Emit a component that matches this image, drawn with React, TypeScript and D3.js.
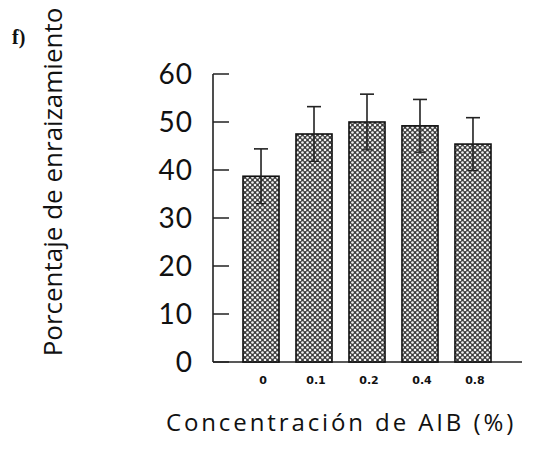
import React from "react";
import * as d3 from "d3";

const categories = ["0", "0.1", "0.2", "0.4", "0.8"];
const values = [38.7, 47.5, 50.0, 49.2, 45.4];
const errors = [5.7, 5.7, 5.8, 5.5, 5.5];
const yTicks = [0, 10, 20, 30, 40, 50, 60];

export default function App() {
  const W = 536, H = 466;
  const x0 = 213, x1 = 522;
  const y = d3.scaleLinear().domain([0, 60]).range([362, 74]);
  const x = d3.scaleBand().domain(categories).range([237.7, 496.3]).paddingInner(0.32).paddingOuter(0.1);
  const bw = x.bandwidth();
  return (
    <svg width={W} height={H} style={{ position: "absolute", left: 0, top: 0, background: "#fff" }}>
      <defs>
        <pattern id="dots" width={5} height={5} patternUnits="userSpaceOnUse">
          <rect width={5} height={5} fill="#3a3a3a" />
          <circle cx={0} cy={0} r={1.3} fill="#f4f4f4" />
          <circle cx={5} cy={0} r={1.3} fill="#f4f4f4" />
          <circle cx={0} cy={5} r={1.3} fill="#f4f4f4" />
          <circle cx={5} cy={5} r={1.3} fill="#f4f4f4" />
          <circle cx={2.5} cy={2.5} r={1.3} fill="#f4f4f4" />
        </pattern>
      </defs>
      {/* axes */}
      <line x1={x0} x2={x0} y1={y(60)} y2={y(0)} stroke="#222" strokeWidth={1.6} />
      <line x1={x0} x2={x1} y1={y(0)} y2={y(0)} stroke="#222" strokeWidth={1.6} />
      {yTicks.map((t) => (
        <g key={t}>
          <line x1={x0} x2={x0 + 16} y1={y(t)} y2={y(t)} stroke="#222" strokeWidth={1.5} />
          <text x={193} y={y(t)} dy="0.36em" textAnchor="end" fontFamily="Lato, 'Open Sans', sans-serif" fontSize={28} letterSpacing={1} fill="#111">
            {t}
          </text>
        </g>
      ))}
      {/* bars */}
      {categories.map((c, i) => {
        const cx = (x(c) as number) + bw / 2;
        return (
          <g key={c}>
            <rect x={x(c)} y={y(values[i])} width={bw} height={y(0) - y(values[i])} fill="url(#dots)" stroke="#111" strokeWidth={1.6} />
            <line x1={cx} x2={cx} y1={y(values[i] + errors[i])} y2={y(values[i] - errors[i])} stroke="#222" strokeWidth={1.6} />
            <line x1={cx - 7} x2={cx + 7} y1={y(values[i] + errors[i])} y2={y(values[i] + errors[i])} stroke="#222" strokeWidth={1.6} />
            <line x1={cx - 5} x2={cx + 5} y1={y(values[i] - errors[i])} y2={y(values[i] - errors[i])} stroke="#222" strokeWidth={1.2} />
            <text x={cx + 2} y={384} textAnchor="middle" fontFamily="'DejaVu Sans', sans-serif" fontWeight="bold" fontSize={11} fill="#111">
              {c}
            </text>
          </g>
        );
      })}
      {/* axis titles */}
      <text transform="translate(62,182) rotate(-90)" textAnchor="middle" fontFamily="'Open Sans', sans-serif" fontSize={26} fill="#111">
        Porcentaje de enraizamiento
      </text>
      <text x={12} y={44} fontFamily="'Liberation Serif', serif" fontWeight="bold" fontSize={20} fill="#111">
        f)
      </text>
      <text x={341} y={431} textAnchor="middle" fontFamily="'Open Sans', sans-serif" fontSize={24} letterSpacing={2.9} fill="#111">
        Concentración de AIB (%)
      </text>
    </svg>
  );
}
